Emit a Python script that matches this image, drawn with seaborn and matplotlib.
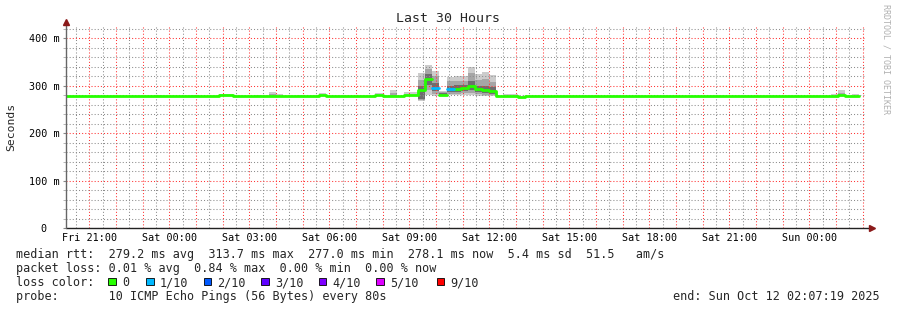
import numpy as np
import pandas as pd
import matplotlib
matplotlib.use("Agg")
import matplotlib.pyplot as plt
from matplotlib.patches import Rectangle
import seaborn as sns

sns.set_theme(style="white")
plt.rcParams['font.family'] = ['DejaVu Sans Mono', 'DejaVu Sans']

# ---------------- data ----------------
# time axis: hours since Fri 00:00
x_start = 20.122          # Fri 20:07:19
x_end = 50.122            # Sun 02:07:19
bin_start = 19.992        # first consolidated 16-min bin
bin_width = 16 / 60

tick_hours = [21, 24, 27, 30, 33, 36, 39, 42, 45, 48]
tick_labels = ["Fri 21:00", "Sat 00:00", "Sat 03:00", "Sat 06:00", "Sat 09:00",
               "Sat 12:00", "Sat 15:00", "Sat 18:00", "Sat 21:00", "Sun 00:00"]
y_ticks = [0, 100, 200, 300, 400]
y_tick_labels = ["0  ", "100 m", "200 m", "300 m", "400 m"]

# median rtt per bin (ms)
median_rtt = [
    278.3, 278.3, 278.3, 278.3, 278.3, 278.3, 278.3, 278.3, 278.3, 278.3,
    278.3, 278.3, 278.3, 278.3, 278.3, 278.3, 278.3, 278.3, 278.3, 278.3,
    278.3, 278.3, 279.5, 279.5, 278.3, 278.3, 278.3, 278.3, 278.3, 278.3,
    279.0, 278.3, 278.3, 278.3, 278.3, 278.3, 279.5, 278.3, 278.3, 278.3,
    278.3, 278.3, 278.3, 278.3, 279.5, 278.3, 278.3, 278.3, 279.5, 279.5,
    291.6, 313.7, 295.0, 281.0, 292.6, 293.0, 294.6, 298.7, 293.0, 290.4,
    289.5, 278.3, 278.3, 278.3, 277.0, 278.3, 278.3, 278.3, 278.3, 278.3,
    278.3, 278.3, 278.3, 278.3, 278.3, 278.3, 278.3, 278.3, 278.3, 278.3,
    278.3, 278.3, 278.3, 278.3, 278.3, 278.3, 278.3, 278.3, 278.3, 278.3,
    278.3, 278.3, 278.3, 278.3, 278.3, 278.3, 278.3, 278.3, 278.3, 278.3,
    278.3, 278.3, 278.3, 278.3, 278.3, 278.3, 278.3, 278.3, 278.3, 279.8,
    278.3, 278.1,
]
# max ping per bin (ms)
max_rtt = [
    279.0, 279.0, 279.0, 279.0, 279.0, 279.0, 279.0, 279.0, 279.0, 279.0,
    279.0, 279.0, 279.0, 280.0, 279.0, 279.0, 279.0, 279.0, 280.0, 279.0,
    279.0, 279.0, 283.0, 283.0, 279.0, 279.0, 279.0, 280.5, 279.0, 287.0,
    282.5, 279.0, 279.0, 280.0, 279.0, 279.0, 285.0, 279.0, 279.0, 279.0,
    279.0, 279.0, 279.0, 279.0, 285.0, 279.0, 291.0, 279.0, 286.0, 287.0,
    326.0, 344.0, 332.0, 289.0, 319.0, 320.5, 320.0, 340.0, 325.0, 330.0,
    323.0, 279.0, 282.5, 282.5, 279.0, 279.0, 279.0, 279.0, 279.0, 279.0,
    279.0, 279.0, 279.0, 279.0, 279.0, 279.0, 279.0, 279.0, 279.0, 279.0,
    279.0, 279.0, 279.0, 279.0, 279.0, 279.0, 279.0, 279.0, 279.0, 279.0,
    279.0, 279.0, 279.0, 279.0, 279.0, 279.0, 279.0, 279.0, 279.0, 279.0,
    279.0, 279.0, 279.0, 279.0, 279.0, 279.0, 279.0, 279.0, 282.0, 291.0,
    279.0, 282.0,
]
# min ping per bin (ms)
min_rtt = [
    277.6, 277.6, 277.6, 277.6, 277.6, 277.6, 277.6, 277.6, 277.6, 277.6,
    277.6, 277.6, 277.6, 277.6, 277.6, 277.6, 277.6, 277.6, 277.6, 277.6,
    277.6, 277.6, 278.0, 278.0, 277.6, 277.6, 277.6, 277.6, 277.6, 277.6,
    277.6, 277.6, 277.6, 277.6, 277.6, 277.6, 278.0, 277.6, 277.6, 277.6,
    277.6, 277.6, 277.6, 277.6, 278.0, 277.6, 277.6, 277.6, 278.0, 278.0,
    268.0, 280.0, 279.0, 278.0, 280.0, 280.0, 280.0, 281.0, 279.0, 279.0,
    278.0, 277.6, 277.6, 277.6, 276.6, 277.6, 277.6, 277.6, 277.6, 277.6,
    277.6, 277.6, 277.6, 277.6, 277.6, 277.6, 277.6, 277.6, 277.6, 277.6,
    277.6, 277.6, 277.6, 277.6, 277.6, 277.6, 277.6, 277.6, 277.6, 277.6,
    277.6, 277.6, 277.6, 277.6, 277.6, 277.6, 277.6, 277.6, 277.6, 277.6,
    277.6, 277.6, 277.6, 277.6, 277.6, 277.6, 277.6, 277.6, 277.6, 278.0,
    277.6, 277.5,
]
# lost pings (of 10) per bin
loss = [0] * 52 + [1, 0, 1] + [0] * 57

# inner smoke bands for the busy period (bins 50..60)
spike_first_bin = 50
band1_hi = [312, 335, 320, 287, 309, 311, 311, 326, 312, 314, 308]
band2_hi = [300, 324, 306, 284, 300, 301, 302, 310, 300, 300, 297]
band2_lo = [272, 302, 288, 280, 287, 287, 288, 291, 286, 284, 283]
band1_lo = [270, 290, 283, 279, 283, 283, 284, 285, 282, 281, 280]
# secondary bands for small bumps: (bin, upper)
bump_bins = [29, 46, 109]
bump_mid = [283.5, 285.0, 285.5]

loss_levels = ["0", "1/10", "2/10", "3/10", "4/10", "5/10", "9/10"]
loss_colors = ["#26ff00", "#00b8ff", "#0059ff", "#5e00ff", "#7e00ff", "#dd00ff", "#ff0000"]

stats_rtt = "median rtt:  279.2 ms avg  313.7 ms max  277.0 ms min  278.1 ms now  5.4 ms sd  51.5   am/s"
stats_loss = "packet loss: 0.01 % avg  0.84 % max  0.00 % min  0.00 % now"
probe_text = "probe:       10 ICMP Echo Pings (56 Bytes) every 80s"
end_text = "end: Sun Oct 12 02:07:19 2025"

# ---------------- figure ----------------
W, H = 897, 310
fig = plt.figure(figsize=(W / 100, H / 100), dpi=100)
fig.patch.set_facecolor("white")
def fx(px): return px / W
def fy(py): return 1 - py / H

ax = fig.add_axes([fx(66), fy(228), fx(866) - fx(66), fy(26) - fy(228)])
ax.set_facecolor("white")

n = len(median_rtt)
edges = bin_start + bin_width * np.arange(n + 1)

# smoke
lo = np.array(min_rtt + [min_rtt[-1]])
hi = np.array(max_rtt + [max_rtt[-1]])
ax.fill_between(edges, lo, hi, step="post", color="#cccccc", lw=0, zorder=1)
for k in range(len(band1_hi)):
    i = spike_first_bin + k
    ax.fill_between([edges[i], edges[i + 1]], band1_lo[k], band1_hi[k], color="#a6a6a6", lw=0, zorder=1.1)
    ax.fill_between([edges[i], edges[i + 1]], band2_lo[k], band2_hi[k], color="#6e6e6e", lw=0, zorder=1.2)
for b, m in zip(bump_bins, bump_mid):
    ax.fill_between([edges[b], edges[b + 1]], median_rtt[b], m, color="#a6a6a6", lw=0, zorder=1.1)

# median line, coloured by loss, built into a frame for seaborn
rows = []
run = -1
prev = None
for i in range(n):
    if loss[i] != prev:
        run += 1
        prev = loss[i]
    rows.append((edges[i], median_rtt[i], loss_levels[loss[i]], run, 2 * i))
    rows.append((edges[i + 1], median_rtt[i], loss_levels[loss[i]], run, 2 * i + 1))
df = pd.DataFrame(rows, columns=["t", "rtt", "loss", "run", "order"])
sns.lineplot(data=df, x="t", y="rtt", hue="loss", units="run", estimator=None, sort=False,
             palette=dict(zip(loss_levels, loss_colors)), lw=2, legend=False, ax=ax, zorder=3)

ax.set_xlim(x_start, x_end)
ax.set_ylim(0, 426)

# grid
hours = np.arange(21, 51)
ax.set_xticks(hours)
lab_map = dict(zip(tick_hours, tick_labels))
ax.set_xticklabels([lab_map.get(h, "") for h in hours])
ax.set_xticks(np.arange(20.5, 50.2, 1.0), minor=True)
ax.set_yticks(y_ticks)
ax.set_yticklabels(y_tick_labels)
ax.set_yticks([v for v in range(20, 426, 20) if v % 100], minor=True)
ax.set_axisbelow(False)
ax.grid(which="major", color=(1, 0.2, 0.2, 0.28), linestyle=(0, (1, 2)), lw=0.75)
ax.grid(which="minor", color=(0.55, 0.55, 0.55, 0.35), linestyle=(0, (1, 2)), lw=0.75)
ax.tick_params(axis="x", which="both", length=0, pad=3.5, labelsize=7.3, colors="#000000")
ax.tick_params(axis="y", which="major", length=2.5, width=0.8, color="#888888", pad=2, labelsize=7.3,
               labelcolor="#000000", direction="out", left=True)
ax.tick_params(axis="y", which="minor", length=2, width=0.6, color="#aaaaaa", direction="out", left=True)
for s in ax.spines.values():
    s.set_visible(False)
ax.set_xlabel("")
ax.set_ylabel("")

# axes with arrows
ax.plot([0, 1.006], [0, 0], transform=ax.transAxes, color="#222222", lw=1, clip_on=False, zorder=5)
ax.plot([0, 0], [0, 1.02], transform=ax.transAxes, color="#666666", lw=1, clip_on=False, zorder=5)
ax.plot([1.008], [0], transform=ax.transAxes, marker=">", color="#8b1a1a", ms=4, clip_on=False, zorder=6)
ax.plot([0], [1.02], transform=ax.transAxes, marker="^", color="#8b1a1a", ms=4, clip_on=False, zorder=6)

# texts
fig.text(fx(448), fy(19), "Last 30 Hours", ha="center", va="center", fontsize=9.5)
fig.text(fx(11), fy(127), "Seconds", ha="center", va="center", rotation=90, fontsize=8.2)
fig.text(fx(886), fy(4), "RRDTOOL / TOBI OETIKER", ha="center", va="top", rotation=-90,
         fontsize=6, color="#b0b0b0")

fs = 8.5
fig.text(fx(16), fy(258), stats_rtt, ha="left", va="baseline", fontsize=fs)
fig.text(fx(16), fy(272), stats_loss, ha="left", va="baseline", fontsize=fs)
fig.text(fx(16), fy(286), "loss color:", ha="left", va="baseline", fontsize=fs)
fig.text(fx(16), fy(300), probe_text, ha="left", va="baseline", fontsize=fs)
fig.text(fx(880), fy(300), end_text, ha="right", va="baseline", fontsize=fs)

sq_x = [108, 146, 203.5, 261, 318.5, 376, 436.5]
for x0, lab, col in zip(sq_x, loss_levels, loss_colors):
    fig.patches.append(Rectangle((fx(x0), fy(285)), fx(7.5), 7.5 / H, transform=fig.transFigure,
                                 facecolor=col, edgecolor="black", lw=0.6))
    fig.text(fx(x0 + 14), fy(286), lab, ha="left", va="baseline", fontsize=fs)

fig.savefig("out.png", dpi=100, facecolor="white")
